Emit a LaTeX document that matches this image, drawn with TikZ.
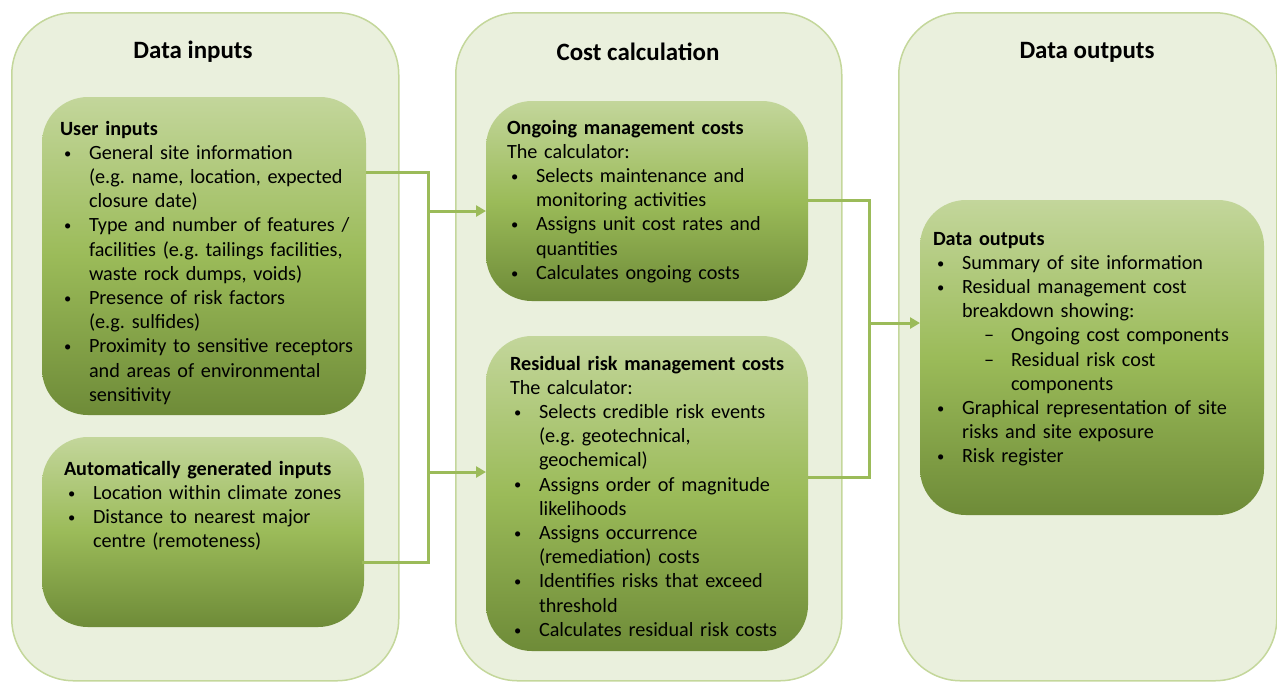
\documentclass[tikz,border=0pt]{standalone}
\usepackage{fontspec}
\setmainfont{Carlito}
\usetikzlibrary{arrows.meta}
\definecolor{panelfill}{HTML}{EAF0DD}
\definecolor{panelline}{HTML}{C4D79B}
\definecolor{boxtop}{HTML}{C3D69B}
\definecolor{boxmid}{HTML}{9BBB59}
\definecolor{boxbot}{HTML}{6E8B38}
\definecolor{conn}{HTML}{9BBB59}
\newlength\px \setlength\px{0.02cm}
\newcommand\smallbul{\raisebox{0.12ex}{\scalebox{0.72}{\textbullet}}}
\newenvironment{blist}{\list{\smallbul}{\setlength\leftmargin{29\px}\setlength\labelsep{0pt}\setlength\labelwidth{26\px}\setlength\itemsep{0pt}\setlength\parsep{0pt}\setlength\topsep{0pt}\setlength\partopsep{0pt}\def\makelabel##1{\makebox[\labelwidth][l]{\hspace{1\px}##1}}}}{\endlist}
\newenvironment{dlist}{\list{--}{\setlength\leftmargin{49\px}\setlength\labelsep{0pt}\setlength\labelwidth{27\px}\setlength\itemsep{0pt}\setlength\parsep{0pt}\setlength\topsep{0pt}\setlength\partopsep{0pt}\def\makelabel##1{\makebox[\labelwidth][l]{##1}}}}{\endlist}
\begin{document}
\begin{tikzpicture}[x=0.02cm,y=-0.02cm,
  panel/.style={draw=panelline,fill=panelfill,line width=1.5\px,rounded corners=62\px},
  ibox/.style={rectangle,inner sep=0pt,outer sep=0pt,rounded corners=46\px,
    top color=boxtop,bottom color=boxbot,middle color=boxmid,anchor=north west},
  head/.style={font=\bfseries\fontsize{14.2}{17}\selectfont},
  txt/.style={inner sep=0pt,outer sep=0pt,anchor=base west,align=left,
    font=\fontsize{11.5}{13.78}\selectfont},
  conn/.style={draw=conn,line width=3\px},
  arr/.style={conn,-{Triangle[length=0.2cm,width=0.22cm]}}]
\useasboundingbox (0,0) rectangle (1277,681);
% panels
\node[panel,anchor=north west,minimum width=387\px,minimum height=668\px,inner sep=0pt] (P1) at (11,12) {};
\node[panel,anchor=north west,minimum width=386\px,minimum height=668\px,inner sep=0pt] (P2) at (455,12) {};
\node[panel,anchor=north west,minimum width=378\px,minimum height=668\px,inner sep=0pt] (P3) at (898,12) {};
\node[head] (h1) at (193,52) {Data inputs};
\node[head] (h2) at (638,52) {Cost calculation};
\node[head] (h3) at (1087,52) {Data outputs};
% inner boxes
\node[ibox,minimum width=324\px,minimum height=318\px] (ui) at (42,97) {};
\node[ibox,minimum width=322\px,minimum height=190\px] (ai) at (42,437) {};
\node[ibox,minimum width=322\px,minimum height=200\px] (og) at (486,101) {};
\node[ibox,minimum width=322\px,minimum height=315\px] (rr) at (486,336) {};
\node[ibox,minimum width=344\px,minimum height=315\px] (do) at (920,200) {};
% texts
\node[txt,text width=320\px] (uit) at (60,135) {\textbf{User inputs}
\begin{blist}
\item General site information\newline(e.g.\ name, location, expected\newline closure date)
\item Type and number of features /\newline facilities (e.g.\ tailings facilities,\newline waste rock dumps, voids)
\item Presence of risk factors\newline(e.g.\ sulfides)
\item Proximity to sensitive receptors\newline and areas of environmental\newline sensitivity
\end{blist}};
\node[txt,text width=300\px] (ait) at (64,475) {\textbf{Automatically generated inputs}
\begin{blist}
\item Location within climate zones
\item Distance to nearest major\newline centre (remoteness)
\end{blist}};
\node[txt,text width=300\px] (ogt) at (507,134) {\textbf{Ongoing management costs}\\The calculator:
\begin{blist}
\item Selects maintenance and\newline monitoring activities
\item Assigns unit cost rates and\newline quantities
\item Calculates ongoing costs
\end{blist}};
\node[txt,text width=300\px] (rrt) at (510,370) {\textbf{Residual risk management costs}\\The calculator:
\begin{blist}
\item Selects credible risk events\newline (e.g.\ geotechnical,\newline geochemical)
\item Assigns order of magnitude\newline likelihoods
\item Assigns occurrence\newline (remediation) costs
\item Identifies risks that exceed\newline threshold
\item Calculates residual risk costs
\end{blist}};
\node[txt,text width=330\px] (dot) at (933,245) {\textbf{Data outputs}
\begin{blist}
\item Summary of site information
\item Residual management cost\newline breakdown showing:
\begin{dlist}
\item Ongoing cost components
\item Residual risk cost\newline components
\end{dlist}
\item Graphical representation of site\newline risks and site exposure
\item Risk register
\end{blist}};
% connectors
\coordinate (a1) at (428,172);
\coordinate (a2) at (428,562);
\coordinate (b1) at (428,211);
\coordinate (b2) at (428,472);
\draw[conn] (ui.east |- a1) -- (a1) -- (a2) -- ([xshift=-2\px]ai.east |- a2);
\draw[arr] (b1) -- (og.west |- b1);
\draw[arr] (b2) -- (rr.west |- b2);
\coordinate (c1) at (869,200);
\coordinate (c2) at (869,477);
\coordinate (d1) at (869,323);
\draw[conn] (og.east |- c1) -- (c1) -- (c2) -- (rr.east |- c2);
\draw[arr] (d1) -- (do.west |- d1);
\end{tikzpicture}
\end{document}
